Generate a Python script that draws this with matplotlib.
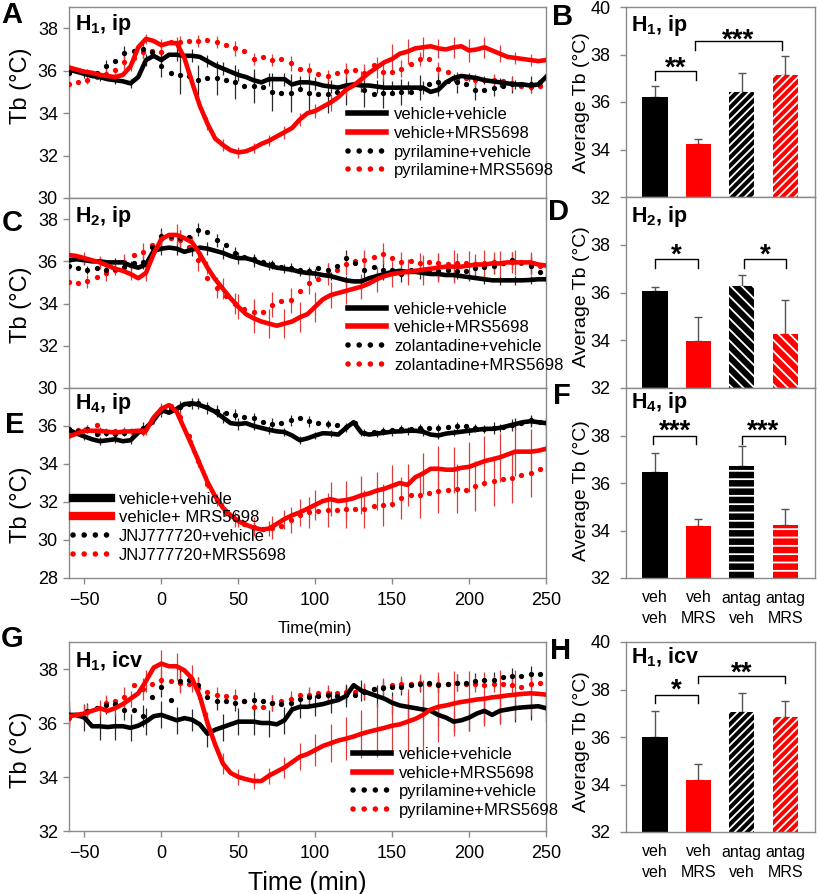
import numpy as np
import matplotlib
matplotlib.use('Agg')
import matplotlib.pyplot as plt
import matplotlib.transforms as mtransforms
from matplotlib.lines import Line2D

plt.rcParams['font.family'] = ['Liberation Sans', 'DejaVu Sans']
plt.rcParams['mathtext.fontset'] = 'custom'
plt.rcParams['mathtext.rm'] = 'Liberation Sans'
plt.rcParams['mathtext.bf'] = 'Liberation Sans:bold'
plt.rcParams['hatch.linewidth'] = 1.3

W, H = 817, 894

# time grids: solid traces every 5 min, dotted traces every 6 min
t_line = np.arange(-60, 251, 5)
t_dot = np.arange(-60, 247, 6)

# ---------------- panel A (H1, ip) ----------------
a_vv = [36.05, 35.95, 35.85, 35.75, 35.7, 35.6, 35.55, 35.5, 35.4, 35.7, 36.5, 36.7, 36.5,
        36.75, 36.75, 36.7, 36.7, 36.65, 36.45, 36.25, 36.1, 35.95, 35.8, 35.7, 35.55, 35.45,
        35.6, 35.6, 35.6, 35.35, 35.45, 35.45, 35.4, 35.3, 35.25, 35.2, 35.3, 35.35, 35.3,
        35.3, 35.25, 35.2, 35.2, 35.2, 35.2, 35.2, 35.2, 35.0, 35.1, 35.45, 35.65, 35.75,
        35.7, 35.65, 35.55, 35.5, 35.45, 35.4, 35.35, 35.35, 35.3, 35.35, 35.7]
a_vm = [36.15, 36.05, 35.95, 35.9, 35.8, 35.75, 35.7, 35.8, 36.2, 37.1, 37.5, 37.4, 37.2,
        37.3, 37.3, 36.6, 35.45, 34.35, 33.5, 32.8, 32.5, 32.25, 32.15, 32.2, 32.35, 32.55,
        32.7, 32.9, 33.1, 33.3, 33.7, 34.0, 34.1, 34.3, 34.5, 34.75, 35.1, 35.3, 35.6, 35.9,
        36.15, 36.4, 36.55, 36.8, 36.9, 37.05, 37.1, 37.15, 37.05, 37.0, 37.1, 37.15, 36.95,
        37.0, 37.1, 36.95, 36.8, 36.65, 36.6, 36.55, 36.5, 36.45, 36.5]
a_av = [35.9, 36.05, 35.9, 35.9, 36.2, 36.45, 36.85, 36.95, 37.0, 36.9, 36.2, 35.9, 35.8,
        35.75, 35.55, 35.65, 35.65, 35.55, 35.45, 35.3, 35.3, 35.25, 35.0, 34.95, 34.95, 35.15,
        34.95, 34.9, 34.9, 35.0, 35.2, 35.35, 35.1, 34.9, 34.95, 34.95, 35.0, 35.0, 35.2, 35.35,
        35.45, 35.5, 35.45, 35.35, 35.1, 35.1, 35.2, 35.3, 35.35, 35.35, 35.35, 35.45]
a_am = [35.35, 35.45, 35.55, 35.7, 35.85, 36.05, 36.4, 36.6, 36.9, 36.95, 36.9, 37.35, 37.35,
        37.4, 37.4, 37.45, 37.35, 37.2, 37.05, 36.95, 36.55, 36.65, 36.5, 36.55, 36.35, 36.1,
        36.05, 35.85, 35.75, 35.9, 36.0, 36.05, 35.9, 36.25, 35.95, 35.95, 36.1, 36.3, 36.55,
        36.55, 36.1, 35.95, 35.6, 35.65, 35.55, 35.55, 35.55, 35.5, 35.4, 35.3, 35.25, 35.3]
a_err_vv = [0.2, 0.2, 0.2, 0.2, 0.2, 0.3, 0.3, 0.3, 0.3, 0.3, 0.3, 0.3, 0.3, 0.3, 0.3, 0.3,
            0.3, 0.3, 0.3, 0.3, 0.3, 0.3, 0.3, 0.3, 0.3, 0.2, 0.2, 0.2, 0.2, 0.2, 0.2, 0.2]
a_err_vm = [0.15, 0.15, 0.15, 0.2, 0.2, 0.25, 0.3, 0.3, 0.3, 0.3, 0.3, 0.25, 0.25, 0.25, 0.3,
            0.3, 0.35, 0.4, 0.3, 0.4, 0.5, 0.7, 0.6, 0.5, 0.45, 0.5, 0.55, 0.5, 0.4, 0.3, 0.3, 0.3]
a_err_av = [0.2, 0.2, 0.3, 0.3, 0.4, 0.5, 0.9, 0.7, 0.8, 0.8, 0.8, 0.9, 0.9, 1.0, 0.9, 0.8,
            0.8, 0.7, 0.6, 0.6, 0.5, 0.5, 0.5, 0.4, 0.4, 0.4]
a_err_am = [0.2, 0.2, 0.3, 0.3, 0.3, 0.3, 0.3, 0.3, 0.3, 0.35, 0.3, 0.3, 0.35, 0.3, 0.3, 0.35,
            0.4, 0.45, 0.4, 0.35, 0.3, 0.3, 0.3, 0.3, 0.3, 0.3]

# ---------------- panel C (H2, ip) ----------------
c_vv = [36.05, 36.1, 36.05, 36.0, 36.0, 35.95, 35.95, 35.95, 35.8, 35.7, 35.85, 36.5, 36.6,
        36.65, 36.6, 36.45, 36.55, 36.65, 36.6, 36.5, 36.4, 36.25, 36.15, 36.15, 36.05, 35.9,
        35.8, 35.7, 35.65, 35.6, 35.5, 35.45, 35.42, 35.35, 35.3, 35.2, 35.1, 35.05, 35.05,
        35.2, 35.3, 35.4, 35.5, 35.55, 35.5, 35.5, 35.45, 35.4, 35.4, 35.35, 35.35, 35.3,
        35.25, 35.2, 35.15, 35.1, 35.1, 35.1, 35.1, 35.1, 35.12, 35.15, 35.15]
c_vm = [36.3, 36.25, 36.15, 36.05, 35.95, 35.8, 35.65, 35.55, 35.4, 35.2, 35.45, 36.35, 37.05,
        37.25, 37.25, 37.1, 36.9, 36.35, 35.7, 35.15, 34.7, 34.25, 33.85, 33.5, 33.3, 33.15,
        33.05, 32.95, 33.05, 33.15, 33.35, 33.5, 33.85, 34.2, 34.4, 34.5, 34.6, 34.7, 34.8,
        34.95, 35.15, 35.3, 35.4, 35.45, 35.5, 35.55, 35.6, 35.65, 35.7, 35.75, 35.75, 35.75,
        35.8, 35.85, 35.85, 35.9, 35.9, 35.95, 35.95, 35.95, 35.95, 35.85, 35.8]
c_av = [35.8, 35.7, 35.6, 35.7, 35.6, 35.65, 35.75, 35.9, 35.95, 36.7, 37.2, 37.2, 37.1,
        37.15, 37.5, 37.4, 37.0, 36.75, 36.4, 36.2, 36.1, 35.95, 35.85, 35.75, 35.7, 35.6,
        35.55, 35.7, 35.6, 35.8, 36.15, 35.9, 35.6, 35.75, 35.6, 35.6, 35.4, 35.6, 35.55, 35.5,
        35.55, 35.6, 35.55, 35.55, 35.7, 35.75, 35.8, 35.9, 36.05, 35.95, 35.8, 35.5]
c_am = [35.0, 34.95, 35.05, 35.25, 35.45, 35.6, 35.95, 36.3, 36.45, 36.75, 37.05, 37.1, 37.0,
        36.7, 36.05, 35.2, 34.75, 34.35, 34.0, 33.75, 33.6, 33.6, 33.95, 34.1, 34.15, 34.6,
        34.95, 35.15, 35.4, 35.6, 35.85, 36.0, 36.05, 36.2, 36.35, 36.15, 35.95, 36.0, 35.9,
        35.95, 35.9, 35.85, 35.9, 35.9, 35.85, 35.9, 35.95, 35.9, 35.95, 35.9, 35.85, 35.8]
c_err_vv = [0.2, 0.2, 0.2, 0.2, 0.2, 0.2, 0.3, 0.3, 0.3, 0.3, 0.3, 0.3, 0.3, 0.2, 0.2, 0.2,
            0.2, 0.2, 0.2, 0.2, 0.2, 0.2, 0.2, 0.2, 0.2, 0.2, 0.2, 0.2, 0.2, 0.2, 0.2, 0.2]
c_err_vm = [0.3, 0.3, 0.3, 0.3, 0.3, 0.4, 0.4, 0.5, 0.3, 0.3, 0.5, 0.6, 0.7, 0.7, 0.7, 0.7,
            0.7, 0.6, 0.6, 0.6, 0.6, 0.6, 0.6, 0.7, 0.7, 0.8, 0.7, 0.7, 0.6, 0.6, 0.5, 0.5]
c_err_av = [0.2, 0.2, 0.3, 0.3, 0.3, 0.4, 0.4, 0.3, 0.3, 0.3, 0.2, 0.2, 0.2, 0.2, 0.3, 0.4,
            0.5, 0.5, 0.4, 0.4, 0.4, 0.4, 0.4, 0.4, 0.4, 0.4]
c_err_am = [0.3, 0.3, 0.4, 0.4, 0.4, 0.4, 0.5, 0.5, 0.5, 0.5, 0.6, 0.6, 0.6, 0.5, 0.5, 0.5,
            0.5, 0.5, 0.5, 0.5, 0.5, 0.5, 0.5, 0.5, 0.5, 0.5]

# ---------------- panel E (H4, ip) ----------------
e_vv = [35.8, 35.6, 35.45, 35.3, 35.2, 35.25, 35.3, 35.2, 35.25, 35.65, 35.9, 36.3, 36.85,
        36.7, 36.9, 37.15, 37.2, 37.1, 36.95, 36.75, 36.45, 36.15, 36.1, 36.15, 36.0, 35.9,
        35.8, 35.72, 35.68, 35.5, 35.25, 35.35, 35.5, 35.62, 35.6, 35.55, 35.9, 36.2, 35.65,
        35.55, 35.6, 35.65, 35.7, 35.72, 35.75, 35.75, 35.7, 35.55, 35.5, 35.6, 35.65, 35.7,
        35.75, 35.8, 35.85, 35.85, 35.9, 36.0, 36.1, 36.2, 36.25, 36.2, 36.15]
e_vm = [35.45, 35.6, 35.75, 35.75, 35.75, 35.7, 35.65, 35.7, 35.72, 35.75, 35.75, 36.45, 36.9,
        37.1, 36.75, 35.85, 34.95, 34.0, 33.05, 32.3, 31.7, 31.3, 31.0, 30.8, 30.65, 30.55,
        30.6, 30.85, 31.1, 31.3, 31.45, 31.65, 31.85, 32.05, 32.15, 32.05, 32.1, 32.2, 32.35,
        32.45, 32.6, 32.7, 32.85, 33.0, 32.9, 33.3, 33.5, 33.75, 33.75, 33.7, 33.7, 33.8,
        33.85, 34.0, 34.15, 34.25, 34.35, 34.5, 34.65, 34.65, 34.65, 34.7, 34.8]
e_av = [35.85, 35.75, 35.85, 35.6, 35.65, 35.6, 35.65, 35.7, 35.9, 36.3, 36.8, 36.95, 37.0,
        37.15, 37.2, 37.0, 36.8, 36.7, 36.6, 36.5, 36.4, 36.2, 36.1, 36.15, 36.3, 36.4, 36.25,
        36.15, 36.1, 36.05, 35.95, 36.15, 35.65, 35.7, 35.75, 35.8, 35.85, 35.85, 35.9, 35.9,
        35.9, 35.95, 36.0, 36.0, 35.9, 35.85, 35.9, 35.95, 36.05, 36.15, 36.3, 36.2]
e_am = [35.6, 35.8, 35.85, 36.05, 35.7, 35.75, 35.75, 35.6, 35.7, 36.2, 36.9, 37.05, 36.5,
        35.45, 34.15, 32.95, 32.1, 31.5, 31.1, 30.85, 30.7, 30.6, 30.65, 30.75, 31.05, 31.3,
        31.45, 31.55, 31.6, 31.6, 31.65, 31.65, 31.65, 31.8, 31.85, 31.9, 32.2, 32.35, 32.35,
        32.5, 32.6, 32.65, 32.7, 32.65, 32.85, 33.0, 33.1, 33.2, 33.25, 33.4, 33.55, 33.75]
e_err_vv = [0.2, 0.2, 0.2, 0.2, 0.2, 0.2, 0.2, 0.2, 0.3, 0.3, 0.3, 0.3, 0.2, 0.2, 0.2, 0.2,
            0.2, 0.2, 0.2, 0.2, 0.2, 0.2, 0.2, 0.2, 0.2, 0.2, 0.2, 0.2, 0.2, 0.3, 0.3, 0.3]
e_err_vm = [0.2, 0.2, 0.2, 0.2, 0.2, 0.2, 0.3, 0.3, 0.3, 0.3, 0.3, 0.3, 0.3, 0.4, 0.5, 0.7,
            0.8, 0.9, 1.0, 1.0, 1.0, 1.1, 1.1, 1.1, 1.2, 1.2, 1.3, 1.3, 1.3, 1.3, 1.2, 1.2]
e_err_av = [0.2, 0.2, 0.2, 0.2, 0.3, 0.3, 0.3, 0.3, 0.3, 0.3, 0.3, 0.3, 0.3, 0.3, 0.2, 0.2,
            0.2, 0.2, 0.2, 0.2, 0.2, 0.2, 0.2, 0.3, 0.3, 0.3]
e_err_am = [0.2, 0.2, 0.2, 0.2, 0.2, 0.2, 0.3, 0.3, 0.3, 0.4, 0.5, 0.6, 0.7, 0.8, 0.9, 1.0,
            1.0, 1.1, 1.1, 1.2, 1.2, 1.3, 1.3, 1.3, 1.3, 1.3]

# ---------------- panel G (H1, icv) ----------------
g_vv = [36.3, 36.3, 36.2, 35.88, 35.88, 35.85, 35.88, 35.88, 35.82, 35.9, 36.05, 36.25, 36.3,
        36.2, 36.1, 36.18, 36.12, 35.95, 35.6, 35.75, 35.85, 35.95, 36.05, 36.05, 36.05, 36.0,
        36.0, 35.95, 36.1, 36.5, 36.6, 36.6, 36.65, 36.7, 36.78, 36.85, 37.0, 37.4, 37.2, 37.1,
        37.0, 36.9, 36.75, 36.65, 36.6, 36.55, 36.5, 36.45, 36.3, 36.2, 36.05, 36.1, 36.2,
        36.35, 36.45, 36.3, 36.45, 36.5, 36.55, 36.58, 36.6, 36.62, 36.55]
g_vm = [36.25, 36.3, 36.35, 36.45, 36.55, 36.45, 36.55, 36.7, 36.9, 37.1, 37.55, 38.05, 38.2,
        38.1, 38.1, 37.95, 37.65, 37.0, 36.0, 35.2, 34.5, 34.15, 34.0, 33.92, 33.85, 33.85,
        34.05, 34.2, 34.35, 34.55, 34.75, 34.85, 35.0, 35.15, 35.25, 35.35, 35.42, 35.5, 35.6,
        35.68, 35.75, 35.82, 35.9, 35.95, 36.05, 36.15, 36.3, 36.5, 36.6, 36.65, 36.72, 36.78,
        36.82, 36.87, 36.9, 36.95, 36.98, 37.02, 37.05, 37.08, 37.1, 37.08, 37.05]
g_av = [36.3, 36.3, 36.45, 36.55, 36.65, 36.7, 36.5, 36.5, 36.25, 36.95, 37.35, 36.85, 37.55,
        37.6, 37.4, 36.95, 36.8, 36.8, 36.75, 36.8, 36.85, 36.8, 36.75, 36.7, 36.75, 36.9,
        36.95, 37.0, 37.05, 37.0, 37.05, 37.05, 37.15, 37.25, 37.3, 37.35, 37.35, 37.4, 37.45,
        37.5, 37.4, 37.45, 37.5, 37.5, 37.55, 37.6, 37.6, 37.7, 37.75, 37.75, 37.8, 37.8]
g_am = [36.2, 36.3, 36.4, 36.55, 36.75, 36.8, 36.95, 37.4, 37.25, 37.45, 37.6, 37.55, 37.5,
        37.45, 37.3, 37.15, 37.05, 37.0, 36.95, 36.8, 36.6, 36.6, 36.75, 36.8, 36.9, 37.05,
        37.05, 37.1, 37.1, 37.1, 37.15, 37.15, 37.2, 37.25, 37.35, 37.4, 37.45, 37.45, 37.5,
        37.45, 37.45, 37.45, 37.5, 37.45, 37.45, 37.4, 37.45, 37.45, 37.4, 37.35, 37.45, 37.5]
g_err_vv = [0.5, 0.5, 0.5, 0.5, 0.5, 0.5, 0.5, 0.5, 0.4, 0.5, 0.5, 0.5, 0.5, 0.5, 0.5, 0.4,
            0.4, 0.4, 0.4, 0.4, 0.4, 0.4, 0.4, 0.4, 0.4, 0.4, 0.5, 0.5, 0.5, 0.5, 0.5, 0.5]
g_err_vm = [0.4, 0.3, 0.3, 0.3, 0.3, 0.4, 0.5, 0.5, 0.5, 0.4, 0.4, 0.3, 0.3, 0.3, 0.4, 0.5,
            0.6, 0.7, 0.8, 0.9, 1.0, 1.1, 1.2, 1.3, 1.3, 1.2, 1.1, 1.0, 1.0, 0.9, 0.8, 0.7]
g_err_av = [0.3, 0.3, 0.3, 0.4, 0.4, 0.4, 0.4, 0.3, 0.3, 0.3, 0.3, 0.3, 0.3, 0.3, 0.3, 0.3,
            0.3, 0.3, 0.3, 0.3, 0.3, 0.3, 0.3, 0.3, 0.3, 0.3]
g_err_am = [0.3, 0.3, 0.3, 0.4, 0.4, 0.4, 0.4, 0.4, 0.3, 0.3, 0.3, 0.3, 0.3, 0.3, 0.3, 0.3,
            0.3, 0.3, 0.3, 0.3, 0.3, 0.3, 0.3, 0.3, 0.3, 0.3]

# ---------------- bar panels ----------------
bar_labels = ['veh\nveh', 'veh\nMRS', 'antag\nveh', 'antag\nMRS']
b_vals = [36.22, 34.25, 36.43, 37.15]
b_err = [0.45, 0.21, 0.77, 0.8]
d_vals = [36.07, 33.96, 36.28, 34.25]
d_err = [0.16, 1.0, 0.45, 1.45]
f_vals = [36.48, 34.17, 36.72, 34.25]
f_err = [0.79, 0.31, 0.82, 0.65]
h_vals = [35.99, 34.18, 37.05, 36.85]
h_err = [1.1, 0.7, 0.81, 0.66]
# brackets: (x1, x2, top, foot, stars, star_y)
b_sig = [(0.0, 0.95, 37.29, 36.93, '**', 37.8), (0.92, 2.92, 38.55, 38.2, '***', 38.98)]
d_sig = [(0.0, 0.98, 37.42, 37.03, '*', 37.93), (2.05, 3.02, 37.42, 37.03, '*', 37.93)]
f_sig = [(-0.05, 0.95, 38.0, 37.65, '***', 38.55), (2.0, 3.0, 38.0, 37.65, '***', 38.55)]
h_sig = [(0.0, 0.98, 37.75, 37.44, '*', 38.35), (0.98, 3.0, 38.56, 38.28, '**', 39.05)]

RED = '#ff0000'
SPINE = '#8a8a8a'

fig = plt.figure(figsize=(W / 100, H / 100), dpi=100)


def px_axes(l, t, r, b):
    return fig.add_axes([l / W, 1 - b / H, (r - l) / W, (b - t) / H])


def style(ax):
    for sp in ax.spines.values():
        sp.set_color(SPINE)
        sp.set_linewidth(1.0)
    ax.tick_params(direction='out', color=SPINE, length=4, width=1, labelsize=13, pad=4)


def time_panel(ax, vv, vm, av, am, evv, evm, eav, eam, ylim, yticks, tag, labels,
               leg_xy, leg_lw, show_x):
    ax.errorbar(t_dot[::2], np.array(av)[::2], yerr=eav, fmt='none', ecolor='#2a2a2a',
                elinewidth=0.9, zorder=2)
    ax.errorbar(t_dot[::2], np.array(am)[::2], yerr=eam, fmt='none', ecolor='#e03a3a',
                elinewidth=0.9, zorder=2)
    ax.errorbar(t_line[::2], np.array(vv)[::2], yerr=evv, fmt='none', ecolor='#2a2a2a',
                elinewidth=0.9, zorder=2)
    ax.errorbar(t_line[::2], np.array(vm)[::2], yerr=evm, fmt='none', ecolor='#e03a3a',
                elinewidth=0.9, zorder=2)
    ax.plot(t_dot, am, 'o', color=RED, ms=3.8, mew=0, zorder=3)
    ax.plot(t_dot, av, 'o', color='k', ms=3.8, mew=0, zorder=3)
    ax.plot(t_line, vv, color='k', lw=3.3, solid_joinstyle='round', zorder=4)
    ax.plot(t_line, vm, color=RED, lw=3.3, solid_joinstyle='round', zorder=5)
    ax.set_xlim(-60, 250)
    ax.set_ylim(*ylim)
    ax.set_yticks(yticks)
    style(ax)
    if show_x:
        ax.set_xticks([-50, 0, 50, 100, 150, 200, 250])
        ax.tick_params(axis='x', pad=6)
    else:
        ax.tick_params(axis='x', bottom=False, labelbottom=False)
    ax.text(0.012, tag[1], tag[0], transform=ax.transAxes, fontsize=15.5, fontweight='bold',
            va='center', ha='left', zorder=6)
    handles = [Line2D([], [], color='k', lw=leg_lw),
               Line2D([], [], color=RED, lw=leg_lw),
               Line2D([], [], color='k', lw=4, ls=(0, (0.01, 2.0)), dash_capstyle='round'),
               Line2D([], [], color=RED, lw=4, ls=(0, (0.01, 2.0)), dash_capstyle='round')]
    ax.legend(handles, labels, loc='upper left', bbox_to_anchor=leg_xy, frameon=False,
              fontsize=12, handlelength=2.3, handletextpad=0.45, labelspacing=0.22,
              borderpad=0, borderaxespad=0)


def bar_panel(ax, vals, errs, hatch, sig, tag, yticks, show_x):
    x = np.arange(len(vals))
    cols = ['k', RED, 'k', RED]
    for i in range(len(vals)):
        if i < 2:
            ax.bar(x[i], vals[i], width=0.58, color=cols[i], lw=0, zorder=2)
        else:
            ax.bar(x[i], vals[i], width=0.58, color=cols[i], hatch=hatch, edgecolor='white',
                   lw=0, zorder=2)
    ax.errorbar(x, vals, yerr=[np.zeros(len(vals)), errs], fmt='none', ecolor='#555555',
                elinewidth=1.0, capsize=3, capthick=1.0, zorder=1)
    for x1, x2, top, foot, stars, sy in sig:
        ax.plot([x1, x1, x2, x2], [foot, top, top, foot], color='k', lw=1.0, zorder=3)
        tr = mtransforms.offset_copy(ax.transData, fig=fig, y=-0.58 * 20, units='points')
        ax.text((x1 + x2) / 2, sy, stars, transform=tr, fontsize=20, fontweight='bold',
                ha='center', va='baseline')
    ax.set_xlim(-0.67, 3.69)
    ax.set_ylim(32, 40)
    ax.set_yticks(yticks)
    style(ax)
    ax.tick_params(axis='y', pad=7)
    if show_x:
        ax.set_xticks(x)
        ax.set_xticklabels(bar_labels, fontsize=11.5, linespacing=1.45)
        ax.tick_params(axis='x', length=0, pad=9)
    else:
        ax.tick_params(axis='x', bottom=False, labelbottom=False)
    ax.text(0.025, tag[1], tag[0], transform=ax.transAxes, fontsize=15.5, fontweight='bold',
            va='center', ha='left')


ax_a = px_axes(69, 7, 546, 198)
ax_c = px_axes(69, 198, 546, 388)
ax_e = px_axes(69, 388, 546, 578)
ax_g = px_axes(69, 642, 546, 831)
ax_b = px_axes(626, 7, 815, 197)
ax_d = px_axes(626, 197, 815, 388)
ax_f = px_axes(626, 388, 815, 578)
ax_h = px_axes(626, 642, 815, 832)

pyr = ['vehicle+vehicle', 'vehicle+MRS5698', 'pyrilamine+vehicle', 'pyrilamine+MRS5698']
zol = ['vehicle+vehicle', 'vehicle+MRS5698', 'zolantadine+vehicle', 'zolantadine+MRS5698']
jnj = ['vehicle+vehicle', 'vehicle+ MRS5698', 'JNJ777720+vehicle', 'JNJ777720+MRS5698']

time_panel(ax_a, a_vv, a_vm, a_av, a_am, a_err_vv, a_err_vm, a_err_av, a_err_am,
           (30, 39), [30, 32, 34, 36, 38], (r'$\mathbf{H_1}$, ip', 0.906), pyr,
           (0.585, 0.475), 4, False)
time_panel(ax_c, c_vv, c_vm, c_av, c_am, c_err_vv, c_err_vm, c_err_av, c_err_am,
           (30, 39), [30, 32, 34, 36, 38], (r'$\mathbf{H_2}$, ip', 0.905), zol,
           (0.585, 0.455), 4, False)
time_panel(ax_e, e_vv, e_vm, e_av, e_am, e_err_vv, e_err_vm, e_err_av, e_err_am,
           (28, 38), [28, 30, 32, 34, 36], (r'$\mathbf{H_4}$, ip', 0.916), jnj,
           (0.008, 0.455), 6, True)
time_panel(ax_g, g_vv, g_vm, g_av, g_am, g_err_vv, g_err_vm, g_err_av, g_err_am,
           (32, 39), [32, 34, 36, 38], (r'$\mathbf{H_1}$, icv', 0.9), pyr,
           (0.595, 0.445), 4, True)

bar_panel(ax_b, b_vals, b_err, '////', b_sig, (r'$\mathbf{H_1}$, ip', 0.905),
          [32, 34, 36, 38, 40], False)
bar_panel(ax_d, d_vals, d_err, '\\\\\\', d_sig, (r'$\mathbf{H_2}$, ip', 0.9),
          [32, 34, 36, 38], False)
bar_panel(ax_f, f_vals, f_err, '--', f_sig, (r'$\mathbf{H_4}$, ip', 0.926),
          [32, 34, 36, 38], True)
bar_panel(ax_h, h_vals, h_err, '////', h_sig, (r'$\mathbf{H_1}$, icv', 0.92),
          [32, 34, 36, 38, 40], True)

# axis titles
for yc in (86, 305, 505, 750):
    fig.text(21 / W, 1 - yc / H, 'Tb (°C)', rotation=90, fontsize=17, ha='center', va='center')
for yc in (103, 297, 491, 742):
    fig.text(582 / W, 1 - yc / H, 'Average Tb (°C)', rotation=90, fontsize=14,
             ha='center', va='center')
fig.text(315 / W, 1 - 629 / H, 'Time(min)', fontsize=12, ha='center', va='center')
fig.text(307 / W, 1 - 883 / H, 'Time (min)', fontsize=18, ha='center', va='center')

# panel letters
for lab, xp, yp in [('A', 12, 15), ('B', 563, 17), ('C', 12, 223), ('D', 558, 212),
                    ('E', 15, 425), ('F', 562, 396), ('G', 12, 639), ('H', 561, 651)]:
    fig.text(xp / W, 1 - yp / H, lab, fontsize=21, fontweight='bold', ha='center', va='center')

fig.savefig('out.png', dpi=100)
